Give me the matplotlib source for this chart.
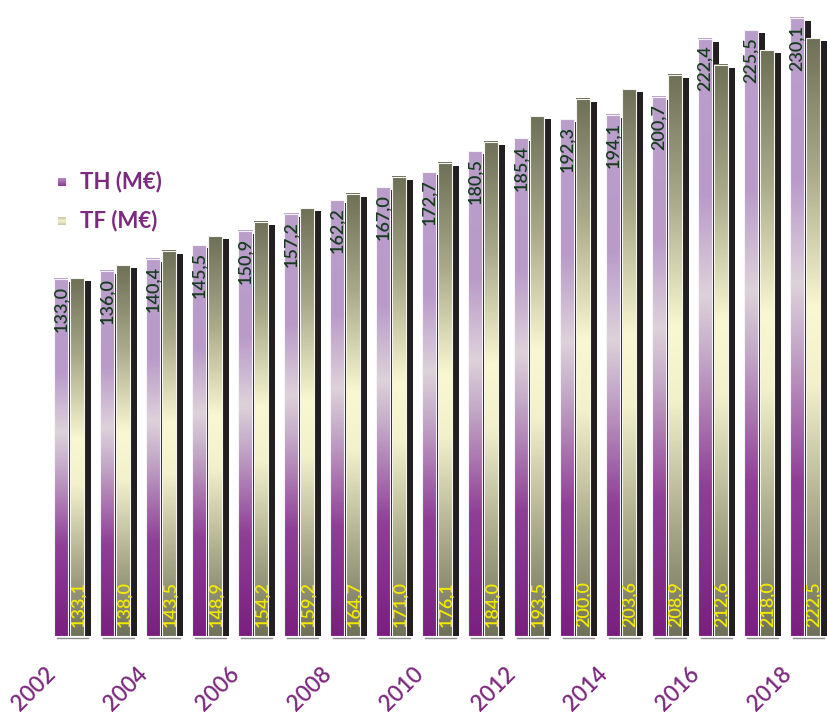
import matplotlib
matplotlib.use("Agg")
import matplotlib.pyplot as plt
import numpy as np
from matplotlib.colors import LinearSegmentedColormap
from matplotlib.patches import Rectangle

years = list(range(2002, 2019))
th_values = [133.0, 136.0, 140.4, 145.5, 150.9, 157.2, 162.2, 167.0, 172.7,
             180.5, 185.4, 192.3, 194.1, 200.7, 222.4, 225.5, 230.1]
tf_values = [133.1, 138.0, 143.5, 148.9, 154.2, 159.2, 164.7, 171.0, 176.1,
             184.0, 193.5, 200.0, 203.6, 208.9, 212.6, 218.0, 222.5]
series_names = ["TH (M€)", "TF (M€)"]

# colour ramps, bottom -> top of each bar
TH_CMAP = LinearSegmentedColormap.from_list("th", [
    (0.0, "#7a1f80"), (0.25, "#8f3f96"), (0.47, "#c4aac8"),
    (0.57, "#ddd2da"), (0.74, "#b99ac9"), (1.0, "#bb9fcb")])
TF_CMAP = LinearSegmentedColormap.from_list("tf", [
    (0.0, "#6f7158"), (0.18, "#a4a486"), (0.42, "#f3f1cc"),
    (0.55, "#faf8d2"), (0.78, "#a9a98a"), (1.0, "#6e7057")])
SHADOW = "#231f20"
PURPLE = "#7b2a7f"
TH_LABEL = "#183b20"
TF_LABEL = "#f2ea00"

FONT = "Lato"
W, H, DPI = 827, 715, 100
PX_X = 46.0          # pixels per group
PX_Y = 2.686         # pixels per unit value
BASE = 636           # baseline, pixels from top
X0 = 54              # left edge of first TH bar, pixels

bar_w = 14 / PX_X
gap = 16 / PX_X
shx, shy = 7 / PX_X, 3 / PX_Y
grad = np.linspace(0, 1, 256).reshape(-1, 1)


def draw_bar(ax, x, h, cmap, z):
    ax.imshow(grad, cmap=cmap, origin="lower", aspect="auto",
              extent=[x, x + bar_w, 0, h], zorder=z, interpolation="bilinear")
    ax.add_patch(Rectangle((x, 0), bar_w, h, facecolor="none",
                           edgecolor="#f4f4f4", lw=0.8, zorder=z + 0.1))


fig = plt.figure(figsize=(W / DPI, H / DPI), dpi=DPI)
ax = fig.add_axes([0, (H - BASE) / H, 1, (BASE - 5) / H])
ax.set_xlim(-X0 / PX_X, (W - X0) / PX_X)
ax.set_ylim(0, (BASE - 5) / PX_Y)
ax.axis("off")

for i, (yr, th, tf) in enumerate(zip(years, th_values, tf_values)):
    x_th = i
    x_tf = i + gap
    # drop shadows, offset right and down
    ax.add_patch(Rectangle((x_th + shx, -shy), bar_w, th, facecolor=SHADOW,
                           edgecolor="none", zorder=1))
    ax.add_patch(Rectangle((x_tf + shx, -shy), bar_w, tf, facecolor=SHADOW,
                           edgecolor="none", zorder=1))
    draw_bar(ax, x_th, th, TH_CMAP, 2)
    draw_bar(ax, x_tf, tf, TF_CMAP, 3)
    ax.plot([i + 3 / PX_X, x_tf + bar_w + 4 / PX_X], [-0.7, -0.7],
            color="#8a8a8a", lw=1, zorder=0.5, clip_on=False)

    ax.text(x_th + bar_w / 2, th - 7 / PX_Y, f"{th:.1f}".replace(".", ","),
            rotation=90, ha="center", va="top", color=TH_LABEL,
            fontsize=13, fontweight="semibold", family=FONT, zorder=5)
    ax.text(x_tf + bar_w / 2 + 1 / PX_X, 9 / PX_Y, f"{tf:.1f}".replace(".", ","),
            rotation=90, ha="center", va="bottom", color=TF_LABEL,
            fontsize=13, fontweight="semibold", family=FONT, zorder=5)
    if yr % 2 == 0:
        ax.text(i + 6 / PX_X, -27 / PX_Y, str(yr), rotation=45, ha="right",
                va="top", color=PURPLE, fontsize=16, fontweight="semibold",
                family=FONT, clip_on=False)

# legend swatches
legend_cmaps = [
    LinearSegmentedColormap.from_list("thl", ["#8a3a90", "#b58cc0"]),
    LinearSegmentedColormap.from_list("tfl", ["#c8c6a0", "#f6f4d0", "#c8c6a0"]),
]
for name, cmap, ytop in zip(series_names, legend_cmaps, [178, 217]):
    sq = fig.add_axes([58 / W, (H - ytop - 8) / H, 8 / W, 8 / H])
    sq.imshow(grad, cmap=cmap, origin="lower", aspect="auto",
              interpolation="bilinear")
    sq.axis("off")
    fig.text(80 / W, (H - ytop - 4) / H, name, ha="left", va="center",
             color=PURPLE, fontsize=16, fontweight="bold", family=FONT)

fig.savefig("out.png", dpi=DPI)
